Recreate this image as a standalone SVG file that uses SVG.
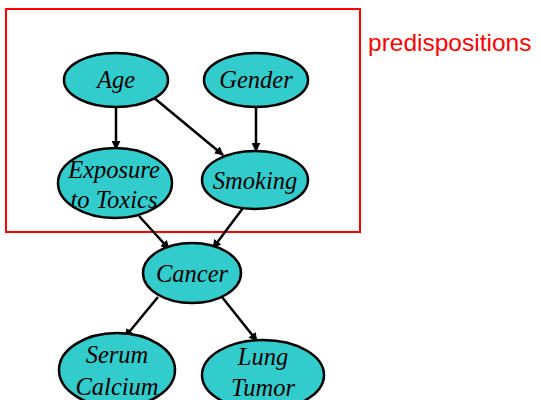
<svg xmlns="http://www.w3.org/2000/svg" width="541" height="400" viewBox="0 0 541 400">
  <defs>
    <marker id="arrow" viewBox="0 0 10 10" refX="9" refY="5" markerWidth="9" markerHeight="9" markerUnits="userSpaceOnUse" orient="auto">
      <path d="M0,0 L10,5 L0,10 z" fill="#000"/>
    </marker>
    <style>
      .node ellipse { fill: #33cccc; stroke: #000; stroke-width: 2.5; }
      .node text { font-family: "Liberation Serif", "Times New Roman", serif; font-style: italic; font-size: 24.5px; fill: #000; text-anchor: middle; }
      .edge { stroke: #000; stroke-width: 2.5; fill: none; marker-end: url(#arrow); }
    </style>
  </defs>
  <rect width="541" height="400" fill="#fff"/>

  <!-- predispositions box -->
  <g id="predispositions">
    <rect x="6" y="9" width="354" height="223" fill="none" stroke="#ff0000" stroke-width="2"/>
    <text x="368" y="51" font-family="Liberation Sans, Arial, sans-serif" font-size="24.5" fill="#ff0000">predispositions</text>
  </g>

  <g id="connectors">
    <line class="edge" x1="116" y1="107" x2="116" y2="149"/>
    <line class="edge" x1="153" y1="97" x2="223" y2="155"/>
    <line class="edge" x1="256" y1="108" x2="256" y2="151"/>
    <line class="edge" x1="139" y1="216" x2="169" y2="249"/>
    <line class="edge" x1="243" y1="208" x2="213" y2="248"/>
    <line class="edge" x1="158" y1="297" x2="125" y2="337"/>
    <line class="edge" x1="222" y1="297" x2="257" y2="341"/>
  </g>

  <g id="age" class="node">
    <ellipse cx="116" cy="80" rx="52" ry="27"/>
    <text x="116" y="88">Age</text>
  </g>
  <g id="gender" class="node">
    <ellipse cx="256" cy="80" rx="52" ry="27"/>
    <text x="256" y="88">Gender</text>
  </g>
  <g id="exposure" class="node">
    <ellipse cx="115" cy="183" rx="57" ry="35"/>
    <text x="114" y="178">Exposure</text>
    <text x="114" y="208">to Toxics</text>
  </g>
  <g id="smoking" class="node">
    <ellipse cx="255" cy="180" rx="53" ry="29"/>
    <text x="255" y="189">Smoking</text>
  </g>
  <g id="cancer" class="node">
    <ellipse cx="192" cy="273" rx="49" ry="30"/>
    <text x="192" y="282">Cancer</text>
  </g>
  <g id="serum-calcium" class="node">
    <ellipse cx="117" cy="370" rx="58" ry="37"/>
    <text x="117" y="363">Serum</text>
    <text x="117" y="395">Calcium</text>
  </g>
  <g id="lung-tumor" class="node">
    <ellipse cx="263" cy="375" rx="61" ry="35"/>
    <text x="263" y="365">Lung</text>
    <text x="263" y="396">Tumor</text>
  </g>
</svg>
